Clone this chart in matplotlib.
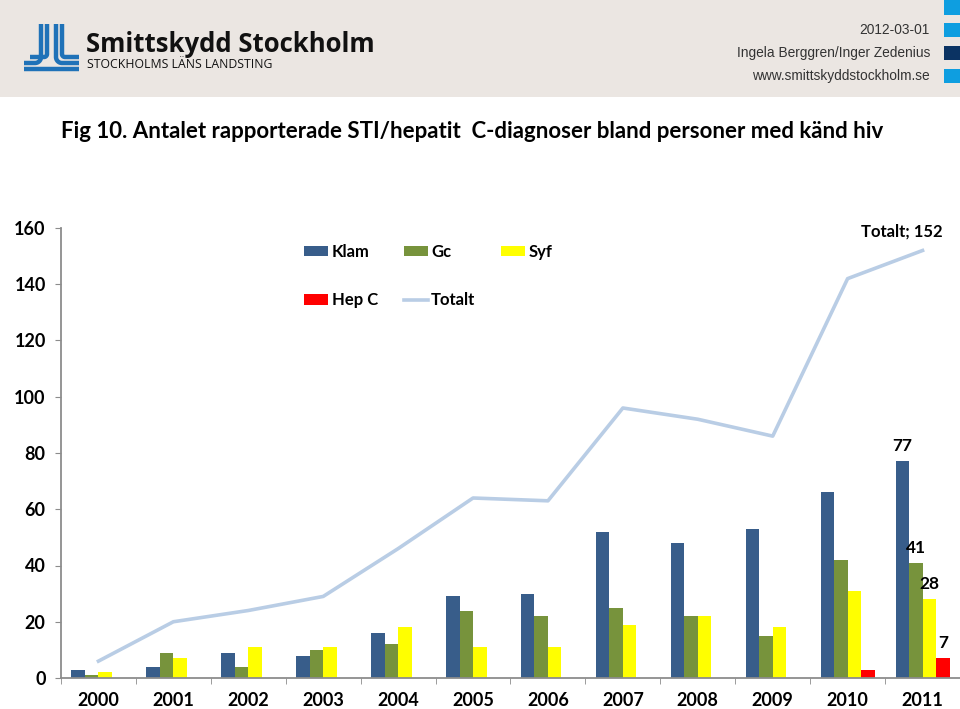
import numpy as np
import matplotlib
matplotlib.use('Agg')
import matplotlib.pyplot as plt
from matplotlib.patches import Rectangle

# data
years = [str(y) for y in range(2000, 2012)]
klam = [3, 4, 9, 8, 16, 29, 30, 52, 48, 53, 66, 77]
gc = [1, 9, 4, 10, 12, 24, 22, 25, 22, 15, 42, 41]
syf = [2, 7, 11, 11, 18, 11, 11, 19, 22, 18, 31, 28]
hepc = [0, 0, 0, 0, 0, 0, 0, 0, 0, 0, 3, 7]
totalt = [6, 20, 24, 29, 46, 64, 63, 96, 92, 86, 142, 152]
series_names = ['Klam', 'Gc', 'Syf', 'Hep C']
yticks = [0, 20, 40, 60, 80, 100, 120, 140, 160]

colors = ['#385d8a', '#77933c', '#ffff00', '#ff0000']
line_color = '#b9cde5'
chart_font = ['Lato', 'DejaVu Sans']

W, H = 960, 709
fig = plt.figure(figsize=(W / 100, H / 100), dpi=100)
fig.patch.set_facecolor('white')

# header drawn in pixel coordinates
hdr = fig.add_axes([0, 0, 1, 1])
hdr.set_xlim(0, W)
hdr.set_ylim(H, 0)
hdr.axis('off')
hdr.add_patch(Rectangle((0, 0), W, 97, facecolor='#ebe6e2', edgecolor='none'))

# logo strokes
logo_blue = '#1f72b8'
def j_stroke(xv, yh, r, x_end, direction):
    t = np.linspace(0, np.pi / 2, 20)
    xs = [xv, xv]
    ys = [24, yh - r]
    # quarter arc turning left (direction=-1) or right (direction=1)
    xs += list(xv + direction * (r - r * np.cos(t)))
    ys += list(yh - r + r * np.sin(t))
    xs.append(x_end)
    ys.append(yh)
    hdr.plot(xs, ys, color=logo_blue, lw=3.2, solid_capstyle='butt')

j_stroke(41, 63, 6, 24, -1)
j_stroke(47, 57, 3, 30, -1)
j_stroke(56, 63, 6, 79, 1)
j_stroke(62, 57, 3, 79, 1)
hdr.plot([24, 79], [69, 69], color=logo_blue, lw=3.2, solid_capstyle='butt')

hdr.text(86, 44, 'Smittskydd Stockholm', fontsize=18.5, fontweight='bold',
         family=['Open Sans', 'DejaVu Sans'], color='#111111', va='center', ha='left')
hdr.text(87, 65, 'STOCKHOLMS LÄNS LANDSTING', fontsize=8.8,
         family=['Open Sans', 'DejaVu Sans'], color='#111111', va='center', ha='left')

for y, s in [(30, '2012-03-01'), (53, 'Ingela Berggren/Inger Zedenius'),
             (76, 'www.smittskyddstockholm.se')]:
    hdr.text(930, y, s, fontsize=9.9, family=['Liberation Sans', 'DejaVu Sans'],
             color='#333333', ha='right', va='center')

for y0, c in [(0, '#0e9ee0'), (23, '#0e9ee0'), (46, '#0b3363'), (69, '#0e9ee0')]:
    hdr.add_patch(Rectangle((944, y0), 16, 14 if y0 else 15, facecolor=c, edgecolor='none'))

hdr.text(61, 131, 'Fig 10. Antalet rapporterade STI/hepatit  C-diagnoser bland personer med känd hiv',
         fontsize=16, fontweight='bold', family=chart_font, color='black',
         ha='left', va='center')

# chart
ax = fig.add_axes([61 / W, 31 / H, (W - 61) / W, 450 / H])
ax.set_facecolor('none')
x = np.arange(len(years))
w = 0.18
for i, (vals, name) in enumerate(zip([klam, gc, syf, hepc], series_names)):
    ax.bar(x + (i - 1.5) * w, vals, width=w, color=colors[i], label=name, zorder=2)
ax.plot(x, totalt, color=line_color, lw=2.6, label='Totalt', zorder=3)

ax.set_xlim(-0.5, len(years) - 0.5)
ax.set_ylim(0, 160)
ax.set_yticks(yticks)
ax.set_xticks(x)
ax.set_xticklabels(years)
ax.set_xticks(np.arange(-0.5, len(years)), minor=True)
ax.tick_params(axis='x', which='major', length=0, pad=10)
ax.tick_params(axis='x', which='minor', length=4, color='#8c8c8c', direction='out')
ax.tick_params(axis='y', length=4, color='#8c8c8c', pad=7)
for lab in ax.get_xticklabels() + ax.get_yticklabels():
    lab.set_fontsize(13)
    lab.set_fontweight('bold')
    lab.set_family(chart_font)
for sp in ['top', 'right']:
    ax.spines[sp].set_visible(False)
for sp in ['left', 'bottom']:
    ax.spines[sp].set_color('#8c8c8c')
    ax.spines[sp].set_linewidth(1.3)

# data labels for 2011
last = len(years) - 1
for i, vals in enumerate([klam, gc, syf, hepc]):
    ax.annotate(str(vals[last]), (x[last] + (i - 1.5) * w, vals[last]),
                xytext=(0, 5), textcoords='offset points', ha='center', va='bottom',
                fontsize=12.5, fontweight='bold', family=chart_font)
ax.annotate('Totalt; %d' % totalt[last], (x[last], totalt[last]),
            xytext=(-15, 8), textcoords='offset points', ha='center', va='bottom',
            fontsize=12, fontweight='bold', family=chart_font)

# legend: row1 Klam Gc Syf, row2 Hep C Totalt
h, l = ax.get_legend_handles_labels()
idx = {name: k for k, name in enumerate(l)}
order = ['Klam', 'Hep C', 'Gc', 'Totalt', 'Syf']
leg = fig.legend([h[idx[n]] for n in order], order, ncol=3, loc='upper left',
                 bbox_to_anchor=(289 / W, 1 - 229 / H), frameon=False,
                 prop={'family': chart_font, 'size': 12, 'weight': 'bold'},
                 handlelength=1.45, handleheight=0.6, handletextpad=0.2,
                 columnspacing=1.55, labelspacing=1.95)

fig.savefig('out.png', dpi=100)
